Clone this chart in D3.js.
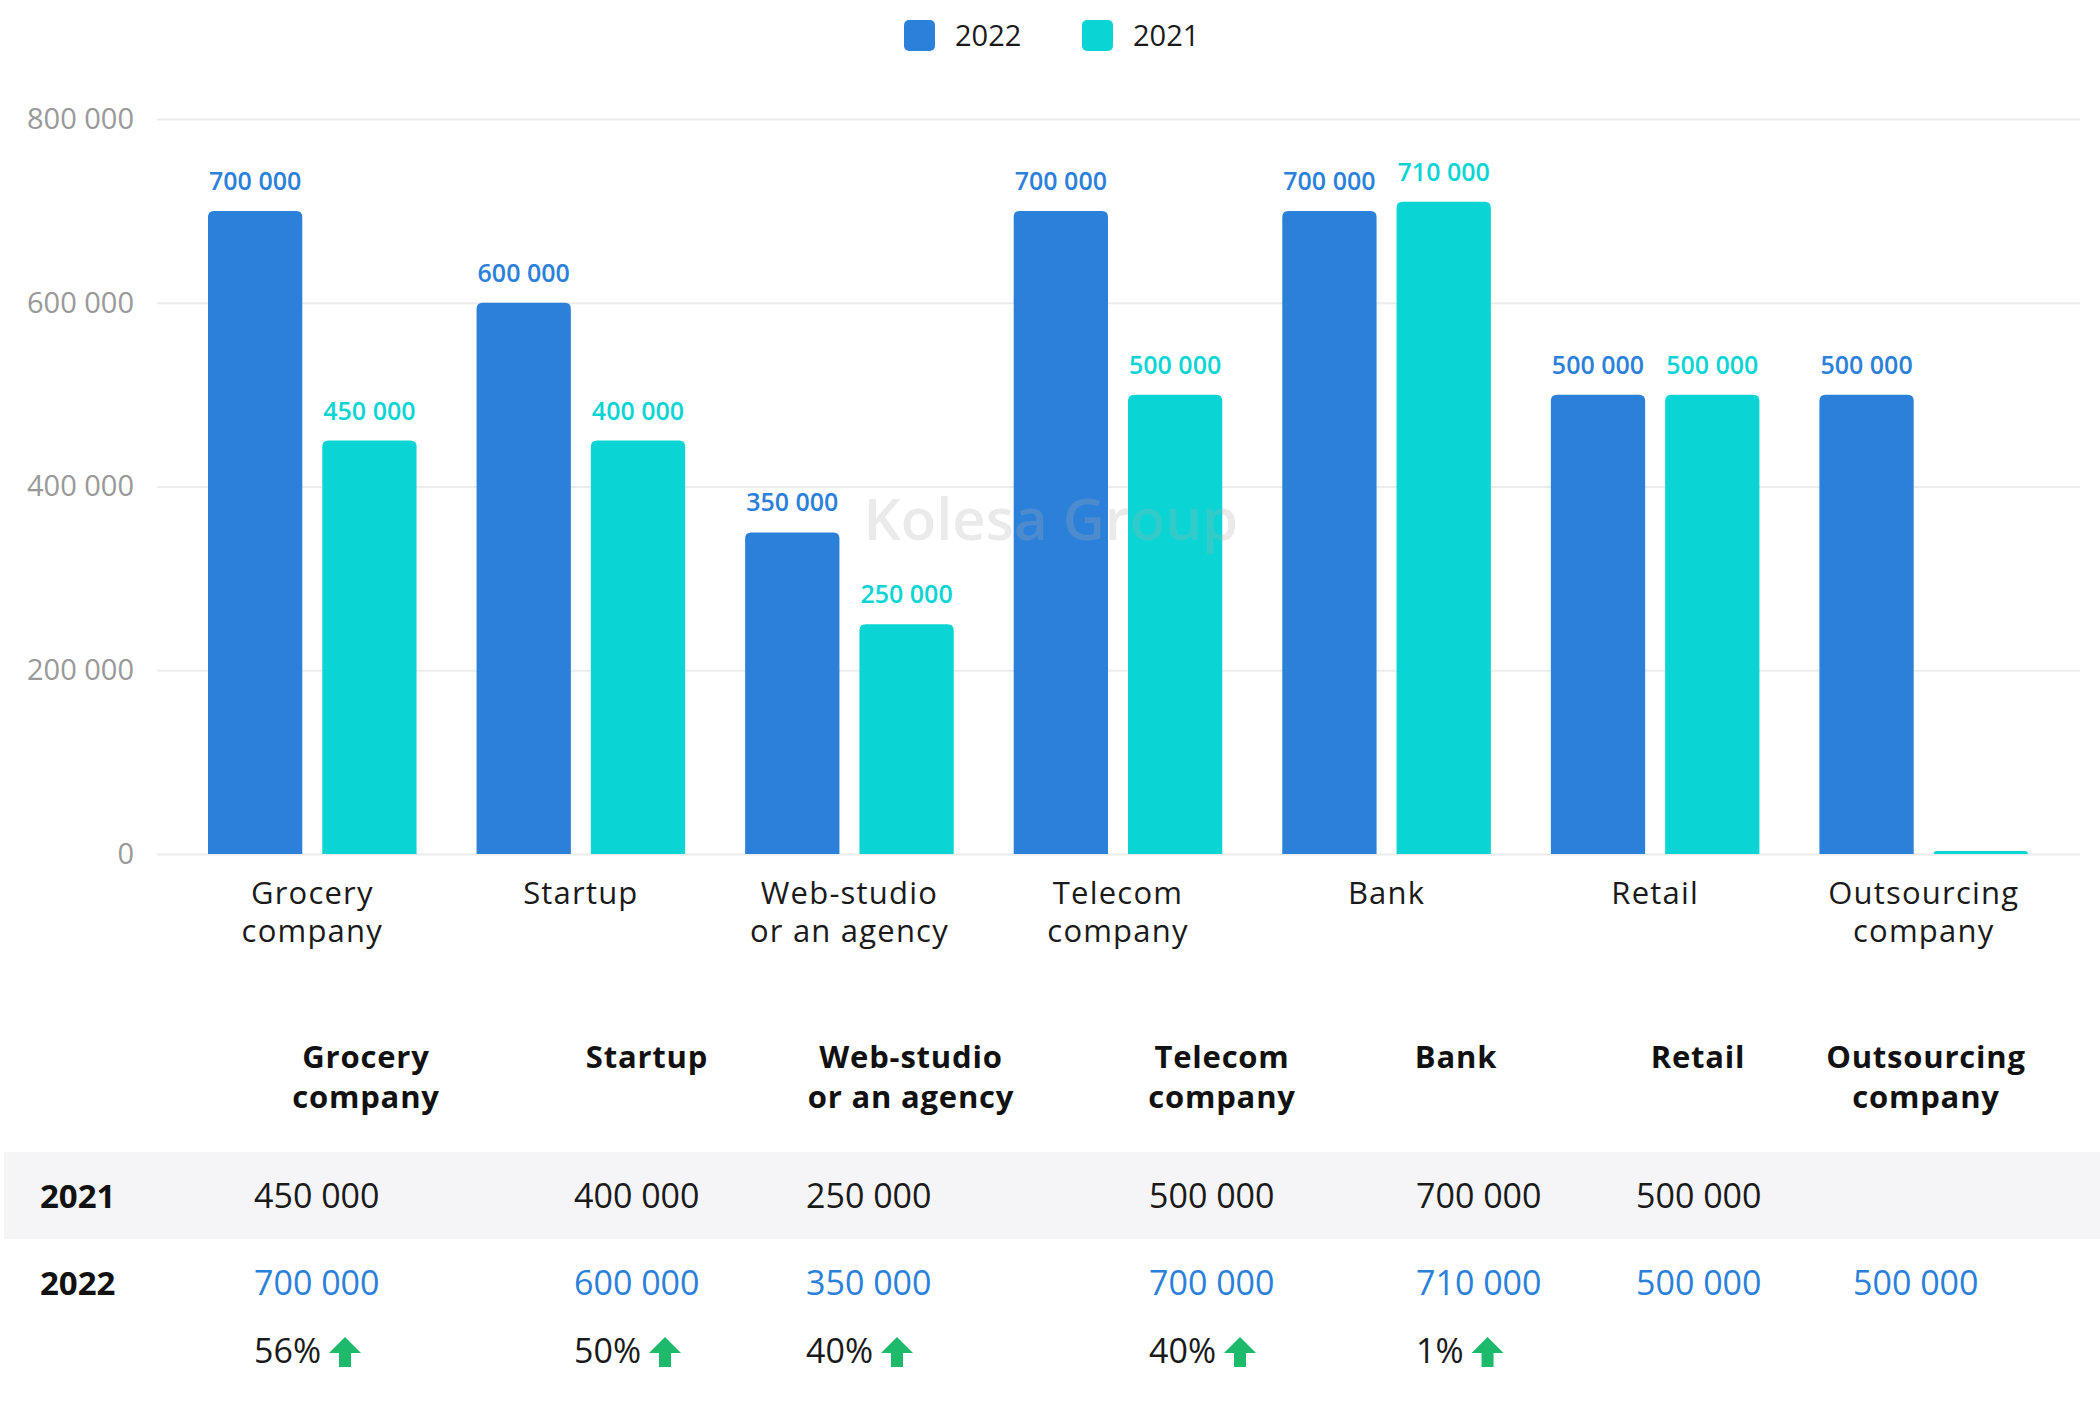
<!DOCTYPE html>
<html>
<head>
<meta charset="utf-8">
<script src="https://cdn.jsdelivr.net/npm/d3@7"></script>
<style>
  body { margin: 0; background: #fff; }
  svg { display: block; font-family: "Open Sans", "Noto Sans", sans-serif; }
</style>
</head>
<body>
<div id="chart"></div>
<script>
// chart data
var categories = ["Grocery company", "Startup", "Web-studio or an agency", "Telecom company", "Bank", "Retail", "Outsourcing company"];
var axisLabels = [["Grocery", "company"], ["Startup"], ["Web-studio", "or an agency"], ["Telecom", "company"], ["Bank"], ["Retail"], ["Outsourcing", "company"]];
var series = ["2022", "2021"];
var values2022 = [700000, 600000, 350000, 700000, 700000, 500000, 500000];
// bar heights as drawn (the Startup 2021 bar is drawn at 450k in the source)
var values2021 = [450000, 450000, 250000, 500000, 710000, 500000, 0];
// labels as printed above the bars
var labels2022 = ["700 000", "600 000", "350 000", "700 000", "700 000", "500 000", "500 000"];
var labels2021 = ["450 000", "400 000", "250 000", "500 000", "710 000", "500 000", ""];
var yTicks = [0, 200000, 400000, 600000, 800000];

// table data (as printed under the chart)
var headerLabels = [["Grocery", "company"], ["Startup"], ["Web-studio", "or an agency"], ["Telecom", "company"], ["Bank"], ["Retail"], ["Outsourcing", "company"]];
var table2021 = [450000, 400000, 250000, 500000, 700000, 500000, null];
var table2022 = [700000, 600000, 350000, 700000, 710000, 500000, 500000];
var growth = [56, 50, 40, 40, 1, null, null];

var width = 2100, height = 1421;
var blue = "#2b80da", teal = "#0bd5d4", green = "#1dba6b";

var svg = d3.select("#chart").append("svg")
  .attr("width", width)
  .attr("height", height);

var loc = d3.formatLocale({decimal: ".", thousands: " ", grouping: [3], currency: ["", ""]});
var fmt = loc.format(",d");

// scales
var x0 = d3.scaleBand().domain(categories).range([178, 2058]).padding(0);
var x1 = d3.scaleBand().domain(series).range([30, x0.bandwidth() - 30]).paddingInner(0.175);
var y = d3.scaleLinear().domain([0, 800000]).range([854, 119]);
var colors = d3.scaleOrdinal(series, [blue, teal]);

// grid + y axis
var gridLeft = 157, gridRight = 2080;
var yAxis = svg.append("g")
  .attr("transform", "translate(" + gridLeft + ",0)")
  .call(d3.axisLeft(y).tickValues(yTicks).tickFormat(fmt)
    .tickSize(-(gridRight - gridLeft)).tickPadding(23));
yAxis.select(".domain").remove();
yAxis.selectAll("line").attr("stroke", "#ececec").attr("stroke-width", 2);
yAxis.selectAll("text").attr("fill", "#999").style("font-size", "29px")
  .style("font-family", "'Open Sans', sans-serif");

// bars with rounded tops
function topRounded(x, yTop, w, h, r) {
  r = Math.min(r, h, w / 2);
  return "M" + x + "," + (yTop + h) +
    "V" + (yTop + r) +
    "Q" + x + "," + yTop + " " + (x + r) + "," + yTop +
    "H" + (x + w - r) +
    "Q" + (x + w) + "," + yTop + " " + (x + w) + "," + (yTop + r) +
    "V" + (yTop + h) + "Z";
}

var rows = categories.map(function(c, i) {
  return {cat: c, vals: [
    {s: "2022", v: values2022[i], label: labels2022[i]},
    {s: "2021", v: values2021[i], label: labels2021[i]}
  ]};
});

var groups = svg.append("g").selectAll("g")
  .data(rows).enter().append("g")
  .attr("transform", function(d) { return "translate(" + x0(d.cat) + ",0)"; });

groups.selectAll("path")
  .data(function(d) { return d.vals; }).enter().append("path")
  .attr("fill", function(d) { return colors(d.s); })
  .attr("d", function(d) {
    var top = y(d.v), h = y(0) - top;
    if (h < 3) { h = 3; top = y(0) - 3; }
    return topRounded(x1(d.s), top, x1.bandwidth(), h, 6);
  });

groups.selectAll("text.val")
  .data(function(d) { return d.vals.filter(function(v) { return v.label; }); }).enter().append("text")
  .attr("class", "val")
  .attr("x", function(d) { return x1(d.s) + x1.bandwidth() / 2; })
  .attr("y", function(d) { return y(d.v) - 21; })
  .attr("text-anchor", "middle")
  .attr("fill", function(d) { return colors(d.s); })
  .style("font-size", "25px")
  .style("font-weight", 600)
  .text(function(d) { return d.label; });

// x axis labels
var xl = svg.append("g").selectAll("text")
  .data(categories).enter().append("text")
  .attr("x", function(d) { return x0(d) + x0.bandwidth() / 2; })
  .attr("y", 904)
  .attr("text-anchor", "middle")
  .attr("fill", "#1a1a1a")
  .style("font-size", "31px")
  .style("letter-spacing", "1.2px");
xl.selectAll("tspan")
  .data(function(d, i) { return axisLabels[i]; }).enter().append("tspan")
  .attr("x", function() { return d3.select(this.parentNode).attr("x"); })
  .attr("dy", function(d, i) { return i === 0 ? 0 : 38; })
  .text(function(d) { return d; });

// watermark
svg.append("text")
  .attr("x", 1051).attr("y", 540)
  .attr("text-anchor", "middle")
  .attr("fill", "rgba(170,170,170,0.25)")
  .style("font-size", "58px")
  .style("font-weight", 600)
  .text("Kolesa Group");

// legend
var legend = svg.append("g").selectAll("g")
  .data(series).enter().append("g")
  .attr("transform", function(d, i) { return "translate(" + (904 + i * 178) + ",20)"; });
legend.append("rect")
  .attr("width", 31).attr("height", 31).attr("rx", 5)
  .attr("fill", function(d) { return colors(d); });
legend.append("text")
  .attr("x", 51).attr("y", 26)
  .attr("fill", "#1a1a1a")
  .style("font-size", "29px")
  .text(function(d) { return d; });

// table
var colLeft = d3.scaleOrdinal(categories, [254, 574, 806, 1149, 1416, 1636, 1853]);
var colHead = d3.scaleOrdinal(categories, [366, 647, 911, 1222, 1456, 1698, 1926]);

svg.append("rect")
  .attr("x", 4).attr("y", 1152).attr("width", width - 4).attr("height", 87)
  .attr("fill", "#f5f5f7");

var heads = svg.append("g").selectAll("text")
  .data(categories).enter().append("text")
  .attr("x", function(d) { return colHead(d); })
  .attr("y", 1068)
  .attr("text-anchor", "middle")
  .attr("fill", "#111")
  .style("font-size", "31px")
  .style("font-weight", 700)
  .style("letter-spacing", "0.8px");
heads.selectAll("tspan")
  .data(function(d, i) { return headerLabels[i]; }).enter().append("tspan")
  .attr("x", function() { return d3.select(this.parentNode).attr("x"); })
  .attr("dy", function(d, i) { return i === 0 ? 0 : 40; })
  .text(function(d) { return d; });

var yearLabels = [{t: "2021", y: 1208}, {t: "2022", y: 1295}];
svg.append("g").selectAll("text")
  .data(yearLabels).enter().append("text")
  .attr("x", 40).attr("y", function(d) { return d.y; })
  .attr("fill", "#111")
  .style("font-size", "33px")
  .style("font-weight", 700)
  .text(function(d) { return d.t; });

function tableRow(vals, yPos, color) {
  svg.append("g").selectAll("text")
    .data(categories.map(function(c, i) { return {c: c, v: vals[i]}; }).filter(function(d) { return d.v != null; }))
    .enter().append("text")
    .attr("x", function(d) { return colLeft(d.c); })
    .attr("y", yPos)
    .attr("fill", color)
    .style("font-size", "34px")
    .text(function(d) { return fmt(d.v); });
}
tableRow(table2021, 1208, "#1a1a1a");
tableRow(table2022, 1295, blue);

var pct = svg.append("g").selectAll("g")
  .data(categories.map(function(c, i) { return {c: c, v: growth[i]}; }).filter(function(d) { return d.v != null; }))
  .enter().append("g");
pct.append("text")
  .attr("x", function(d) { return colLeft(d.c); })
  .attr("y", 1363)
  .attr("fill", "#1a1a1a")
  .style("font-size", "34px")
  .text(function(d) { return d.v + "%"; });
pct.each(function(d) {
  var g = d3.select(this);
  var tw = g.select("text").node().getComputedTextLength();
  var ax = colLeft(d.c) + tw + 8, ay = 1337;
  // up arrow: head + stem
  g.append("path")
    .attr("fill", green)
    .attr("d", "M" + (ax + 16) + "," + ay +
      "L" + (ax + 32) + "," + (ay + 16) +
      "L" + (ax + 22) + "," + (ay + 16) +
      "L" + (ax + 22) + "," + (ay + 30) +
      "L" + (ax + 10) + "," + (ay + 30) +
      "L" + (ax + 10) + "," + (ay + 16) +
      "L" + ax + "," + (ay + 16) + "Z");
});
</script>
</body>
</html>
